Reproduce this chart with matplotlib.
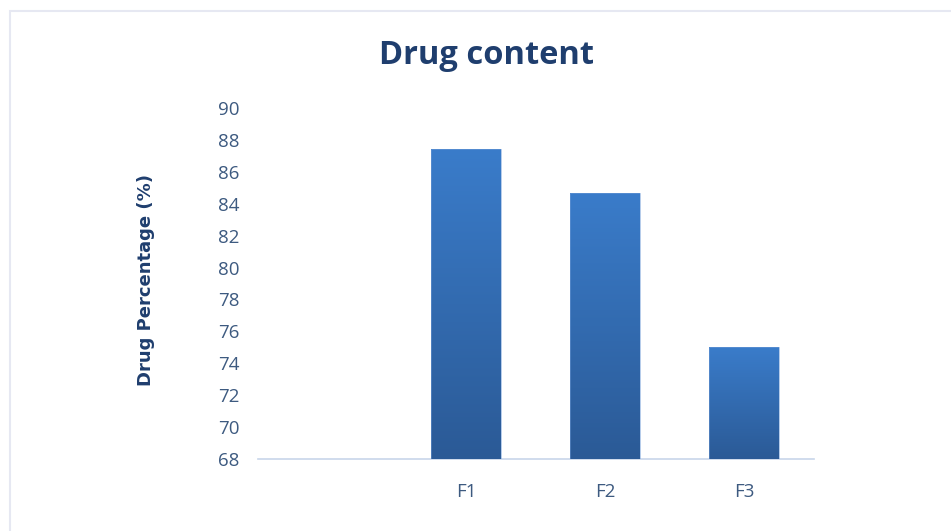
import numpy as np
import matplotlib
matplotlib.use('Agg')
import matplotlib.pyplot as plt
from matplotlib.colors import LinearSegmentedColormap
from matplotlib.patches import Rectangle

categories = ['', 'F1', 'F2', 'F3']
drug_percentage = [np.nan, 87.4, 84.7, 75.0]
y_ticks = list(range(68, 91, 2))

label_color = '#3d5a80'
title_color = '#1f3e6e'
bar_grad = LinearSegmentedColormap.from_list('bar_grad', ['#2b5a96', '#3a7cca'])

fig = plt.figure(figsize=(9.51, 5.31), dpi=100)
# chart-area frame; right and bottom edges run off the canvas
fig.patches.append(Rectangle((9.5 / 951, -0.1), 1.2, 1.1 - 11.5 / 531, transform=fig.transFigure,
                             fill=False, edgecolor='#e6e8f2', linewidth=1.5))

ax = fig.add_axes([257.5 / 951, 1 - 459 / 531, 556 / 951, 351 / 531])
x = np.arange(len(categories))
bars = ax.bar(x, drug_percentage, width=0.5, bottom=0, color='none', edgecolor='none')
ax.set_xlim(-0.5, len(categories) - 0.5)
ax.set_ylim(68, 90)

# vertical gradient fill, clipped to each bar
grad = np.linspace(0, 1, 256).reshape(-1, 1)
for b in bars:
    h = b.get_height()
    if np.isnan(h):
        continue
    x0 = b.get_x()
    im = ax.imshow(grad, cmap=bar_grad, origin='lower', aspect='auto',
                   extent=(x0, x0 + b.get_width(), 68, h), zorder=2)
    im.set_clip_path(Rectangle((x0, 68), b.get_width(), h - 68, transform=ax.transData))
    ax.add_patch(Rectangle((x0, 68), b.get_width(), h - 68, fill=False,
                           edgecolor='#6f9bd6', linewidth=0.6, alpha=0.6, zorder=3))

for s in ['top', 'right', 'left']:
    ax.spines[s].set_visible(False)
ax.spines['bottom'].set_color('#c8d6ea')
ax.spines['bottom'].set_linewidth(1.2)
ax.spines['bottom'].set_zorder(1)

ax.set_yticks(y_ticks)
ax.set_xticks(x)
ax.set_xticklabels(categories)
ax.tick_params(axis='both', length=0, labelcolor=label_color, labelsize=13.5)
ax.tick_params(axis='y', pad=13)
ax.tick_params(axis='x', pad=17)
for t in ax.get_xticklabels() + ax.get_yticklabels():
    t.set_family(['Open Sans', 'DejaVu Sans'])

ax.set_ylabel('Drug Percentage (%)', family=['Liberation Sans Narrow', 'DejaVu Sans'],
              fontweight='bold', fontsize=13, color=title_color)
ax.yaxis.set_label_coords(-0.184, 0.51)

fig.text(486 / 951, 1 - 55 / 531, 'Drug content', ha='center', va='center',
         family=['Open Sans', 'DejaVu Sans'], fontweight='bold', fontsize=23.5, color=title_color)

fig.savefig('out.png', dpi=100)
